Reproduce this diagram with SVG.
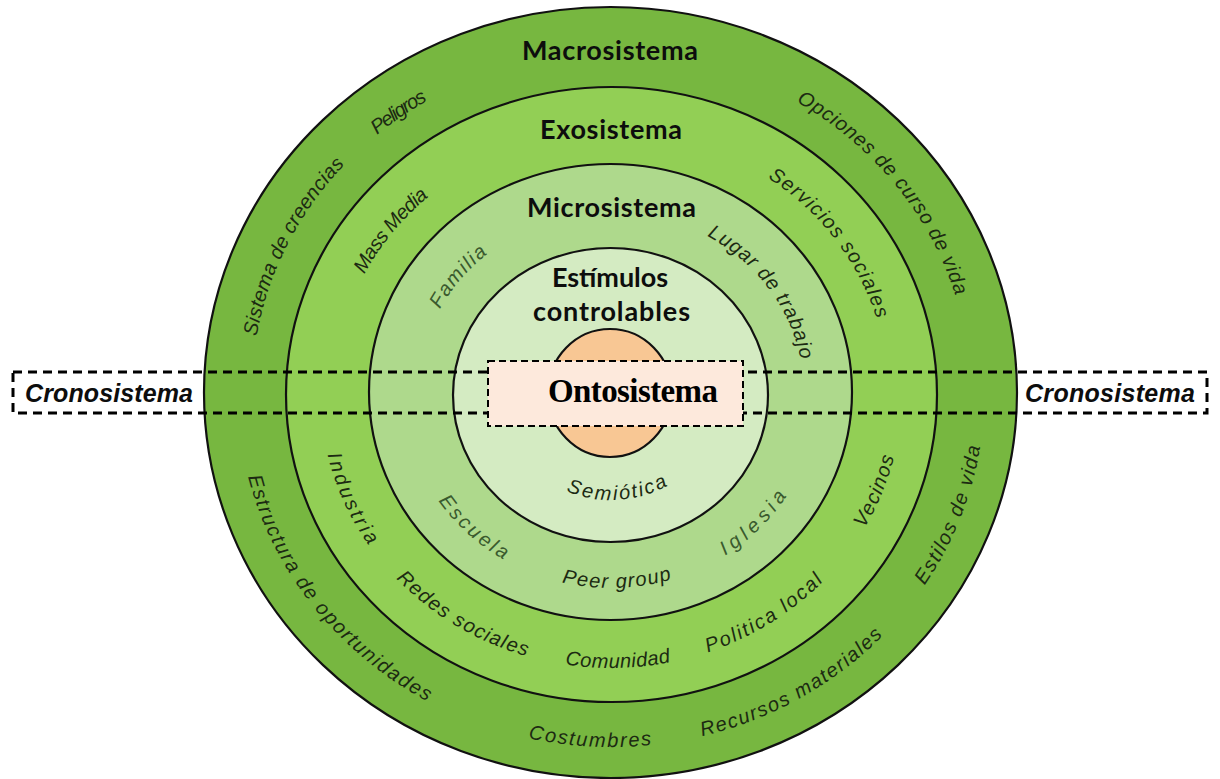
<svg xmlns="http://www.w3.org/2000/svg" width="1220" height="779" viewBox="0 0 1220 779">
  <style>
    .ring { stroke: #111; stroke-width: 2.2; }
    .title { font-family: Lato, "Liberation Sans", sans-serif; font-weight: bold; font-size: 27px; fill: #0d0d0d; text-anchor: middle; }
    .hand { font-family: "Liberation Sans", "DejaVu Sans", sans-serif; font-style: italic; font-size: 20px; fill: #1c2a12; dominant-baseline: central; }
    .hand.soft { fill: #3a5a2e; }
    .crono { font-family: "Liberation Sans", sans-serif; font-weight: bold; font-style: italic; font-size: 25px; fill: #0d0d0d; }
    .onto { font-family: "Liberation Serif", serif; font-weight: bold; font-size: 33px; fill: #000; }
    .dash { fill: none; stroke: #000; stroke-width: 3; stroke-dasharray: 9 6; }
  </style>
  <defs>
    <!-- arc baselines for the curved labels (ellipse centre 611,393) -->
    <!-- outer band -->
    <path id="p-peligros" d="M255.1,310.2 A366.5,347 0 0 1 635.3,46.8"/>
    <path id="p-creencias" d="M256.2,479.9 A366.5,347 0 0 1 459.0,77.2"/>
    <path id="p-opciones" d="M690.9,54.4 A366.5,347 0 0 1 977.1,408.8"/>
    <path id="p-estilos" d="M792.0,694.7 A366.5,347 0 0 0 956.3,276.6"/>
    <path id="p-recursos" d="M553.0,735.6 A366.5,347 0 0 0 957.3,506.5"/>
    <path id="p-costumbres" d="M359.5,645.4 A366.5,347 0 0 0 829.5,671.6"/>
    <path id="p-estructura" d="M245.1,373.0 A366.5,347 0 0 0 526.7,730.7"/>
    <!-- exo band -->
    <path id="p-mass" d="M327.3,405.2 A284,268 0 0 1 549.1,131.5"/>
    <path id="p-servicios" d="M681.6,133.4 A284,268 0 0 1 894.2,413.6"/>
    <path id="p-vecinos" d="M748.7,627.4 A284,268 0 0 0 879.5,305.7"/>
    <path id="p-politica" d="M579.8,659.4 A284,268 0 0 0 883.6,468.2"/>
    <path id="p-comunidad" d="M433.8,602.4 A284,268 0 0 0 798.8,594.0"/>
    <path id="p-redes" d="M339.7,472.2 A284,268 0 0 0 646.6,658.9"/>
    <path id="p-industria" d="M339.7,313.8 A284,268 0 0 0 481.2,631.4"/>
    <!-- micro band -->
    <path id="p-familia" d="M412.4,415.3 A200,188 0 0 1 587.3,206.3"/>
    <path id="p-lugar" d="M646.1,207.9 A200,188 0 0 1 807.9,426.0"/>
    <path id="p-iglesia" d="M616.9,580.9 A200,188 0 0 0 810.9,387.4"/>
    <path id="p-peer" d="M473.8,529.8 A200,188 0 0 0 756.6,521.9"/>
    <path id="p-escuela" d="M411.0,394.0 A200,188 0 0 0 612.0,581.0"/>
    <!-- inner band -->
    <path id="p-semiotica" d="M522.6,448.2 A106,100 0 0 0 705.9,437.6"/>
  </defs>

  <rect width="1220" height="779" fill="#fff"/>

  <!-- Macrosistema -->
  <g id="macrosistema">
    <ellipse class="ring" cx="610.5" cy="392.5" rx="406.5" ry="385.5" fill="#77b740"/>
    <text class="title" x="610" y="60" textLength="176">Macrosistema</text>
  </g>

  <!-- Exosistema -->
  <g id="exosistema">
    <ellipse class="ring" cx="611.5" cy="394.5" rx="325.5" ry="307.5" fill="#92cf55"/>
    <text class="title" x="611" y="139" textLength="142">Exosistema</text>
  </g>

  <!-- Microsistema -->
  <g id="microsistema">
    <ellipse class="ring" cx="610.5" cy="392" rx="241.5" ry="228" fill="#aed98c"/>
    <text class="title" x="611.5" y="217" textLength="169">Microsistema</text>
  </g>

  <!-- Estímulos controlables -->
  <g id="estimulos">
    <ellipse class="ring" cx="610.5" cy="395" rx="157.5" ry="147" fill="#d4ebc2"/>
    <text class="title" x="610" y="287" textLength="116">Estímulos</text>
    <text class="title" x="611.5" y="321" textLength="157">controlables</text>
  </g>

  <!-- core -->
  <g id="nucleo">
    <ellipse class="ring" cx="610" cy="393" rx="62" ry="64" fill="#f8c794"/>
  </g>

  <!-- curved labels of the outer band -->
  <g id="macro-labels">
    <text class="hand"><textPath href="#p-peligros" startOffset="50%" text-anchor="middle" textLength="62">Peligros</textPath></text>
    <text class="hand"><textPath href="#p-creencias" startOffset="50%" text-anchor="middle" textLength="200">Sistema de creencias</textPath></text>
    <text class="hand"><textPath href="#p-opciones" startOffset="50%" text-anchor="middle" textLength="262">Opciones de curso de vida</textPath></text>
    <text class="hand"><textPath href="#p-estilos" startOffset="50%" text-anchor="middle" textLength="148">Estilos de vida</textPath></text>
    <text class="hand"><textPath href="#p-recursos" startOffset="50%" text-anchor="middle" textLength="206">Recursos materiales</textPath></text>
    <text class="hand"><textPath href="#p-costumbres" startOffset="50%" text-anchor="middle" textLength="122">Costumbres</textPath></text>
    <text class="hand"><textPath href="#p-estructura" startOffset="50%" text-anchor="middle" textLength="290">Estructura de oportunidades</textPath></text>
  </g>

  <!-- curved labels of the exo band -->
  <g id="exo-labels">
    <text class="hand"><textPath href="#p-mass" startOffset="50%" text-anchor="middle" textLength="104">Mass Media</textPath></text>
    <text class="hand"><textPath href="#p-servicios" startOffset="50%" text-anchor="middle" textLength="186">Servicios sociales</textPath></text>
    <text class="hand"><textPath href="#p-vecinos" startOffset="50%" text-anchor="middle" textLength="76">Vecinos</textPath></text>
    <text class="hand"><textPath href="#p-politica" startOffset="50%" text-anchor="middle" textLength="134">Politica local</textPath></text>
    <text class="hand"><textPath href="#p-comunidad" startOffset="50%" text-anchor="middle" textLength="104">Comunidad</textPath></text>
    <text class="hand"><textPath href="#p-redes" startOffset="50%" text-anchor="middle" textLength="150">Redes sociales</textPath></text>
    <text class="hand"><textPath href="#p-industria" startOffset="50%" text-anchor="middle" textLength="98">Industria</textPath></text>
  </g>

  <!-- curved labels of the micro band -->
  <g id="micro-labels">
    <text class="hand soft"><textPath href="#p-familia" startOffset="50%" text-anchor="middle" textLength="76">Familia</textPath></text>
    <text class="hand"><textPath href="#p-lugar" startOffset="50%" text-anchor="middle" textLength="166">Lugar de trabajo</textPath></text>
    <text class="hand soft"><textPath href="#p-iglesia" startOffset="50%" text-anchor="middle" textLength="84">Iglesia</textPath></text>
    <text class="hand"><textPath href="#p-peer" startOffset="50%" text-anchor="middle" textLength="108">Peer group</textPath></text>
    <text class="hand soft"><textPath href="#p-escuela" startOffset="50%" text-anchor="middle" textLength="86">Escuela</textPath></text>
  </g>

  <g id="estimulos-labels">
    <text class="hand"><textPath href="#p-semiotica" startOffset="50%" text-anchor="middle" textLength="100">Semiótica</textPath></text>
  </g>

  <!-- Cronosistema: dashed band across the whole diagram -->
  <g id="cronosistema">
    <rect class="dash" x="13" y="372" width="1194" height="41"/>
    <text class="crono" x="25" y="402" textLength="168">Cronosistema</text>
    <text class="crono" x="1025" y="402" textLength="170">Cronosistema</text>
  </g>

  <!-- Ontosistema box on top -->
  <g id="ontosistema">
    <rect x="488" y="361" width="255" height="65" fill="#fde9dc" stroke="#000" stroke-width="2" stroke-dasharray="7 4"/>
    <text class="onto" x="548" y="402" textLength="170">Ontosistema</text>
  </g>
</svg>
